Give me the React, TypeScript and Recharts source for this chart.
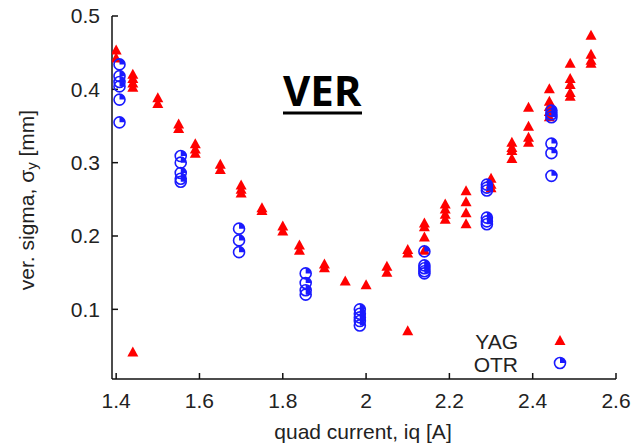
import React from 'react';
import { Customized, Scatter, ScatterChart, XAxis, YAxis } from 'recharts';

const xTicks = [1.4, 1.6, 1.8, 2, 2.2, 2.4, 2.6];
const yTicks = [0.1, 0.2, 0.3, 0.4, 0.5];

// YAG screen: quad current [A] and the sigma values measured at it [mm]
const yagCurrent = [1.4, 1.44, 1.5, 1.55, 1.59, 1.65, 1.7, 1.75, 1.8, 1.84, 1.9, 1.95, 2.0, 2.05, 2.1, 2.14, 2.19, 2.24, 2.3, 2.35, 2.39, 2.44, 2.49, 2.54];
const yagSigma = [
  [0.453, 0.442],
  [0.42, 0.414, 0.408, 0.402, 0.041],
  [0.388, 0.38],
  [0.352, 0.346],
  [0.325, 0.318, 0.312],
  [0.297, 0.29],
  [0.269, 0.263, 0.258],
  [0.238, 0.234],
  [0.213, 0.206],
  [0.187, 0.18],
  [0.161, 0.156],
  [0.138],
  [0.133],
  [0.158, 0.15],
  [0.181, 0.176, 0.07],
  [0.217, 0.212, 0.198, 0.18],
  [0.243, 0.236, 0.229, 0.222],
  [0.261, 0.246, 0.231, 0.216],
  [0.278, 0.27, 0.265],
  [0.327, 0.32, 0.316, 0.305],
  [0.375, 0.349, 0.334, 0.327],
  [0.4, 0.383, 0.376, 0.369, 0.362],
  [0.435, 0.414, 0.406, 0.395, 0.39],
  [0.473, 0.447, 0.439, 0.435]
];

// OTR screen
const otrCurrent = [1.408, 1.555, 1.695, 1.855, 1.985, 2.14, 2.29, 2.445];
const otrSigma = [
  [0.434, 0.418, 0.41, 0.404, 0.386, 0.355],
  [0.309, 0.3, 0.286, 0.278, 0.274],
  [0.21, 0.194, 0.178],
  [0.149, 0.136, 0.126, 0.12],
  [0.1, 0.094, 0.089, 0.084, 0.078],
  [0.179, 0.16, 0.156, 0.152, 0.149],
  [0.27, 0.266, 0.262, 0.225, 0.22, 0.216],
  [0.371, 0.366, 0.362, 0.326, 0.313, 0.282]
];

const toPoints = (currents: number[], sigmas: number[][]) =>
  currents.flatMap((iq, i) => sigmas[i].map((s) => ({ iq, sigma: s })));

const yagData = toPoints(yagCurrent, yagSigma);
const otrData = toPoints(otrCurrent, otrSigma);

const RED = '#ff0000';
const BLUE = '#1a1aff';
const FONT = '"Liberation Sans", Arial, sans-serif';

function Triangle({ cx, cy }: any) {
  if (cx == null || cy == null) return null;
  return <polygon points={`${cx},${cy - 6} ${cx - 5.5},${cy + 4} ${cx + 5.5},${cy + 4}`} fill={RED} />;
}

function OtrMark({ cx, cy }: any) {
  if (cx == null || cy == null) return null;
  const r = 5.5;
  return (
    <g>
      <circle cx={cx} cy={cy} r={r} fill="none" stroke={BLUE} strokeWidth={1.6} />
      <path d={`M${cx},${cy} L${cx},${cy - r} A${r},${r} 0 0 1 ${cx + r},${cy} Z`} fill={BLUE} />
    </g>
  );
}

function Overlay() {
  return (
    <g style={{ fontFamily: FONT }}>
      <text x={283} y={106} fontFamily='"Open Sans", sans-serif' fontWeight={700} fontSize={42} fill="#000">
        VER
      </text>
      <line x1={283} x2={362} y1={113} y2={113} stroke="#000" strokeWidth={3} />

      <text x={518} y={341} textAnchor="end" dominantBaseline="central" fontSize={21} fill="#222">YAG</text>
      <Triangle cx={560} cy={341} />
      <text x={518} y={364} textAnchor="end" dominantBaseline="central" fontSize={21} fill="#222">OTR</text>
      <OtrMark cx={560} cy={363} />

      <text x={363} y={431} textAnchor="middle" dominantBaseline="central" fontSize={21} fill="#222">
        quad current, iq [A]
      </text>
      <text
        x={26}
        y={200}
        textAnchor="middle"
        dominantBaseline="central"
        fontSize={21}
        fill="#222"
        transform="rotate(-90, 26, 200)"
      >
        ver. sigma, σ<tspan fontSize={15} dy={5}>y</tspan>
        <tspan dy={-5}> [mm]</tspan>
      </text>
    </g>
  );
}

export default function App() {
  const tickStyle = { fontSize: 21, fill: '#222', fontFamily: FONT };
  const axisLine = { stroke: '#111', strokeWidth: 1.5 };
  return (
    <div style={{ position: 'absolute', left: 0, top: 0, background: '#fff' }}>
      <ScatterChart width={635} height={447} margin={{ top: 16, right: 19, bottom: 8, left: 12 }}>
        <XAxis
          type="number"
          dataKey="iq"
          domain={[1.39, 2.6]}
          ticks={xTicks}
          allowDataOverflow
          height={60}
          tick={tickStyle}
          tickSize={-6}
          tickMargin={20}
          axisLine={axisLine}
          tickLine={{ stroke: '#111', strokeWidth: 1.5 }}
        />
        <XAxis
          xAxisId="top"
          orientation="top"
          type="number"
          domain={[1.39, 2.6]}
          ticks={xTicks}
          allowDataOverflow
          height={0}
          tick={false}
          tickSize={-6}
          axisLine={axisLine}
          tickLine={{ stroke: '#111', strokeWidth: 1.5 }}
        />
        <YAxis
          type="number"
          dataKey="sigma"
          domain={[0.005, 0.5]}
          ticks={yTicks}
          allowDataOverflow
          width={100}
          tick={tickStyle}
          tickSize={-6}
          tickMargin={18}
          axisLine={axisLine}
          tickLine={{ stroke: '#111', strokeWidth: 1.5 }}
        />
        <YAxis
          yAxisId="right"
          orientation="right"
          type="number"
          domain={[0.005, 0.5]}
          ticks={yTicks}
          allowDataOverflow
          width={0}
          tick={false}
          tickSize={-6}
          axisLine={axisLine}
          tickLine={{ stroke: '#111', strokeWidth: 1.5 }}
        />
        <Scatter name="YAG" data={yagData} shape={<Triangle />} isAnimationActive={false} />
        <Scatter name="OTR" data={otrData} shape={<OtrMark />} isAnimationActive={false} />
        <Customized component={Overlay} />
      </ScatterChart>
    </div>
  );
}
